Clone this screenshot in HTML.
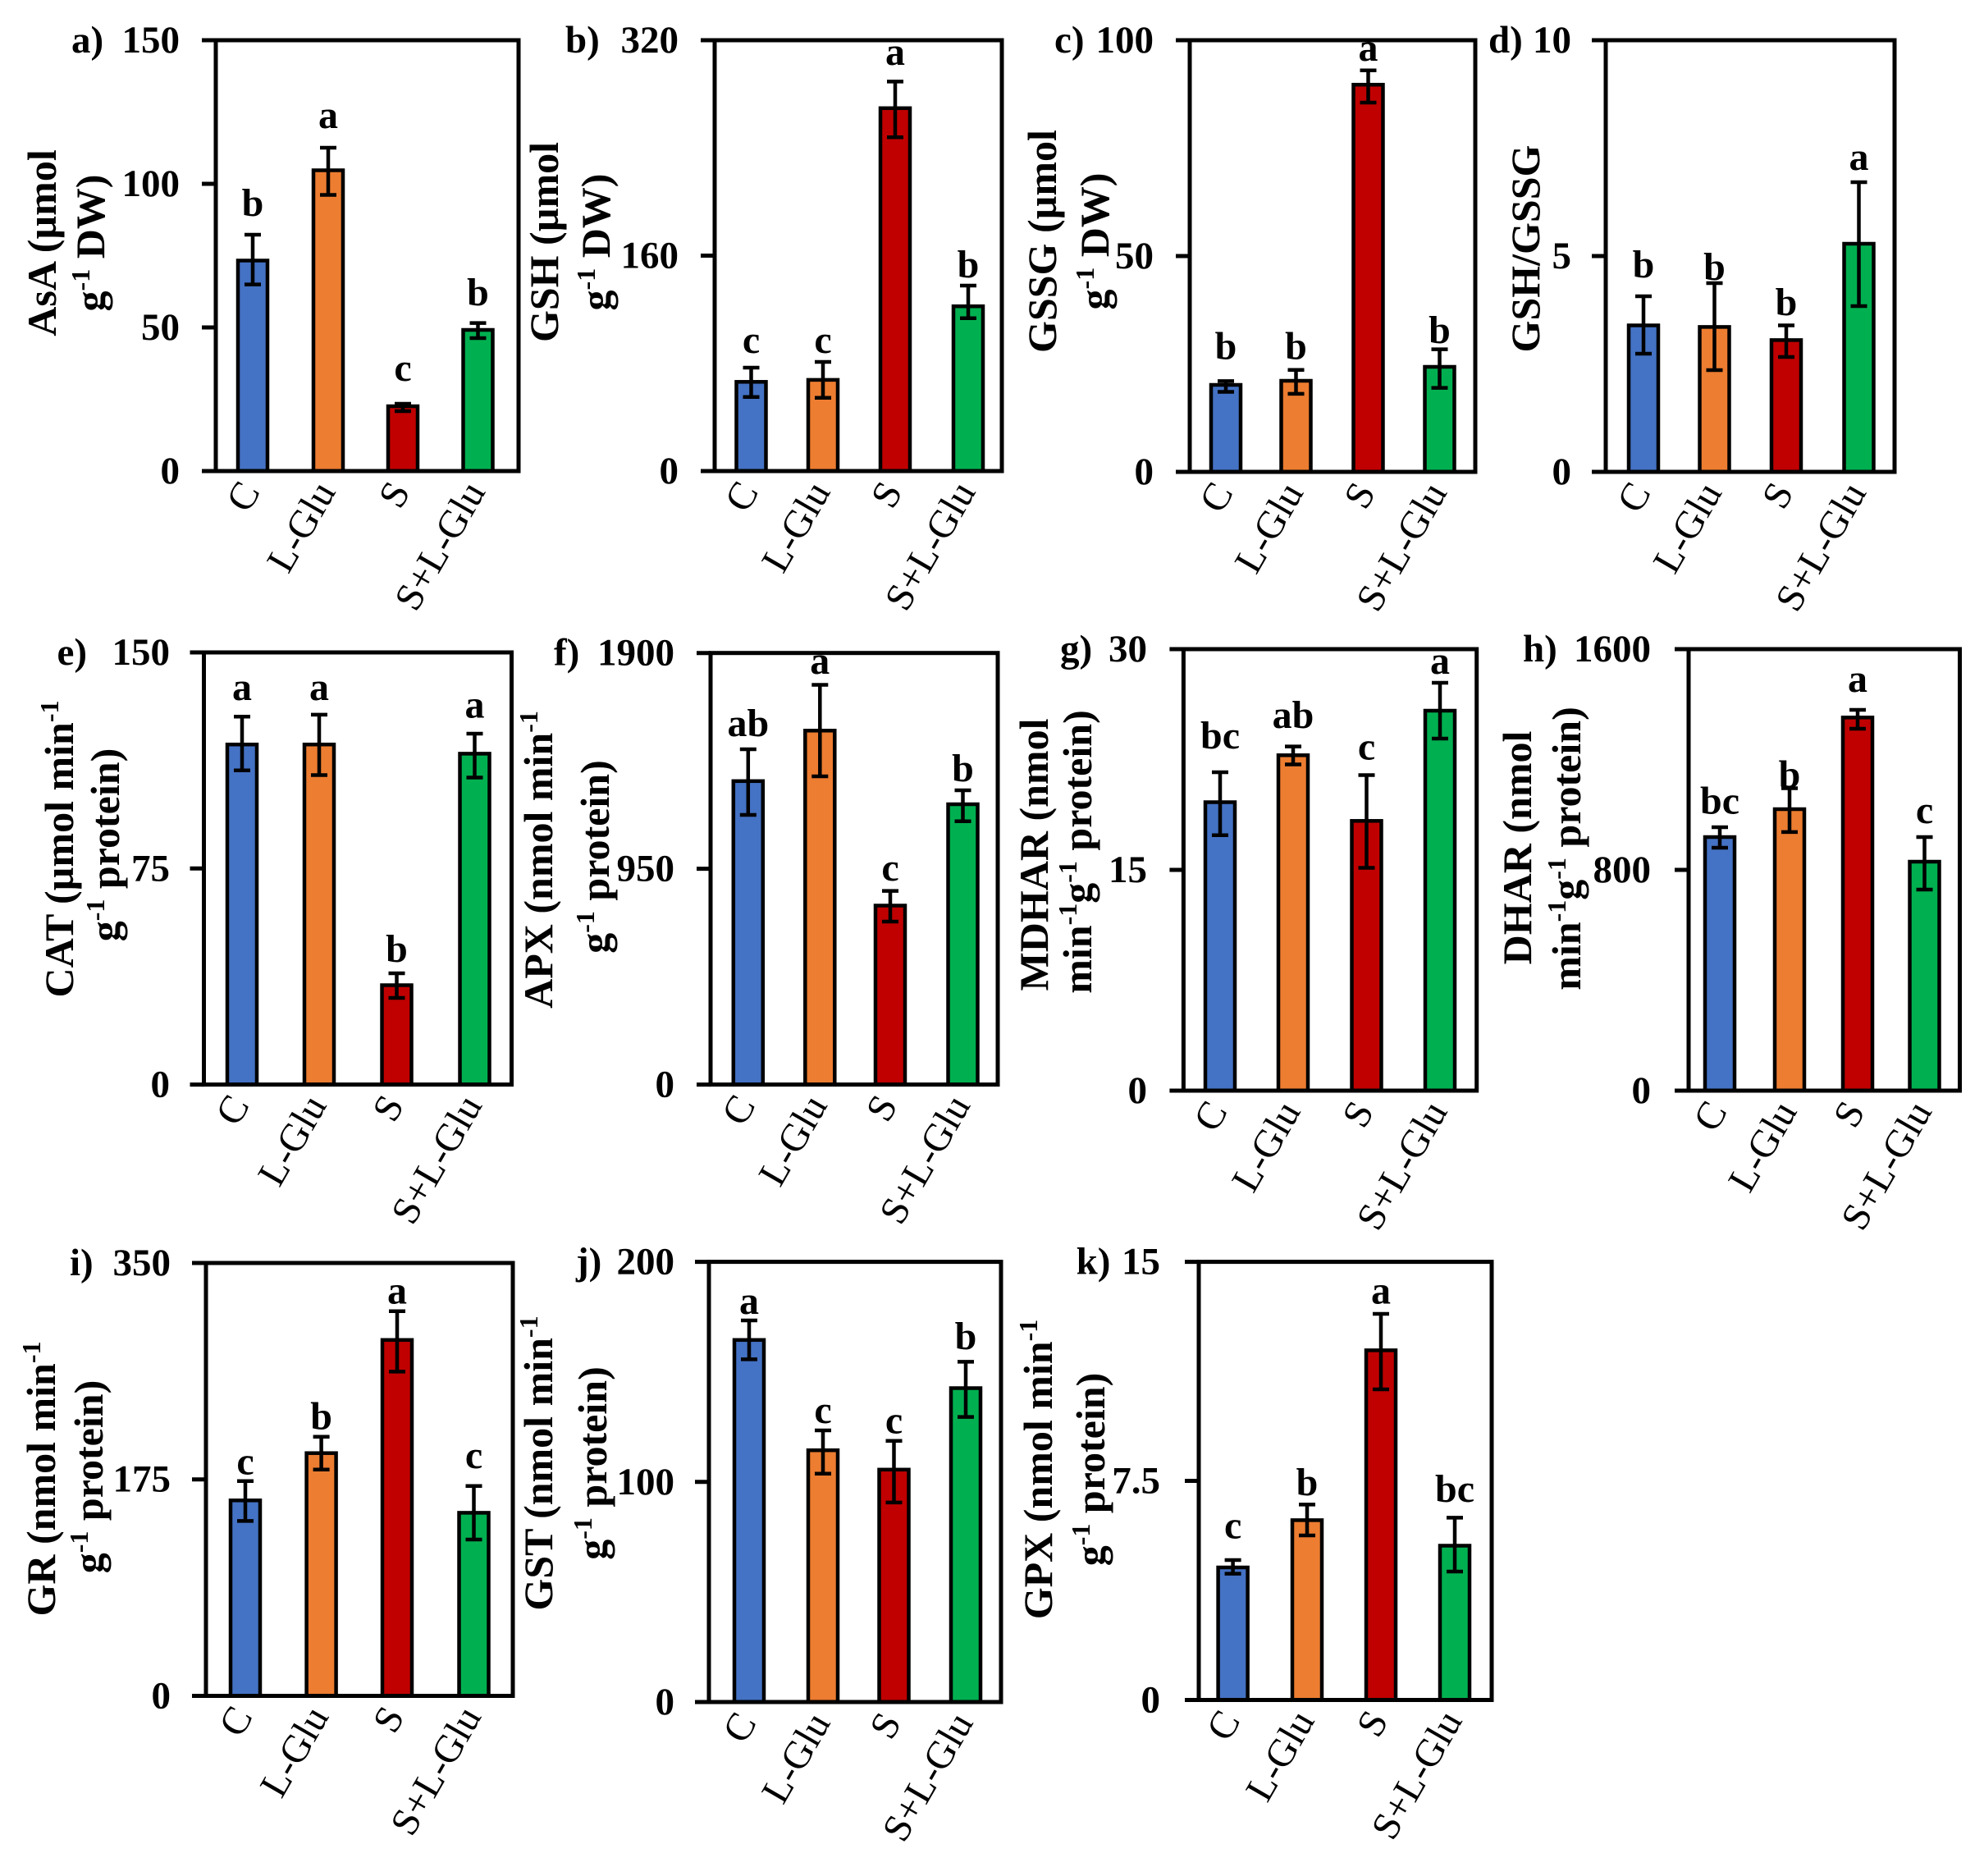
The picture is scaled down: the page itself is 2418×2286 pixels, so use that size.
<!DOCTYPE html>
<html><head><meta charset="utf-8">
<style>
html,body{margin:0;padding:0;background:#fff;}
svg{display:block;}
.tk{font-family:"Liberation Serif",serif;font-weight:bold;font-size:47px;text-anchor:end;fill:#000;}
.pl{font-family:"Liberation Serif",serif;font-weight:bold;font-size:47px;fill:#000;}
.ti{font-family:"Liberation Serif",serif;font-weight:bold;font-size:50px;text-anchor:middle;fill:#000;}
.lt{font-family:"Liberation Serif",serif;font-weight:bold;font-size:48px;text-anchor:middle;fill:#000;}
.xl{font-family:"Liberation Serif",serif;font-size:48px;text-anchor:end;fill:#000;}
.bx{fill:none;stroke:#000;stroke-width:5;}
.tm{stroke:#000;stroke-width:5;fill:none;}
.eb{stroke:#000;stroke-width:4.5;fill:none;}
.b1{fill:#4472C4;stroke:#000;stroke-width:4.5;}
.b2{fill:#ED7D31;stroke:#000;stroke-width:4.5;}
.b3{fill:#C00000;stroke:#000;stroke-width:4.5;}
.b4{fill:#00B050;stroke:#000;stroke-width:4.5;}
</style></head>
<body>
<svg width="2418" height="2286" viewBox="0 0 2418 2286" xmlns="http://www.w3.org/2000/svg">
<rect width="2418" height="2286" fill="#fff"/>

<!-- ===== Panel a ===== -->
<rect class="b1" x="290" y="317.5" width="36" height="256.5"/>
<rect class="b2" x="382" y="207.5" width="36" height="366.5"/>
<rect class="b3" x="473" y="495" width="36" height="79"/>
<rect class="b4" x="564.5" y="402" width="36" height="172"/>
<path class="eb" d="M308 286V346.6M298 286H318M298 346.6H318 M400 180V237.5M390 180H410M390 237.5H410 M491 492V501M481 492H501M481 501H501 M582.5 393.6V412M572.5 393.6H592.5M572.5 412H592.5"/>
<rect class="bx" x="263" y="49" width="369" height="525"/>
<path class="tm" d="M246 49H263M246 224H263M246 399H263M246 574H263"/>
<text class="tk" x="219" y="64">150</text><text class="tk" x="219" y="239">100</text><text class="tk" x="219" y="414">50</text><text class="tk" x="219" y="589">0</text>
<text class="pl" x="87" y="64">a)</text>
<text class="lt" x="308" y="263">b</text><text class="lt" x="400" y="156">a</text><text class="lt" x="491" y="464">c</text><text class="lt" x="582.5" y="372">b</text>
<text class="xl" transform="translate(318,599) rotate(-60)">C</text>
<text class="xl" transform="translate(410,599) rotate(-60)">L-Glu</text>
<text class="xl" transform="translate(501,599) rotate(-60)">S</text>
<text class="xl" transform="translate(592.5,599) rotate(-60)">S+L-Glu</text>
<text class="ti" transform="translate(68,296) rotate(-90)">AsA (µmol</text>
<text class="ti" transform="translate(127,296) rotate(-90)">g<tspan font-size="32" dy="-18">-1</tspan><tspan dy="18"> DW)</tspan></text>

<!-- ===== Panel b ===== -->
<rect class="b1" x="897.5" y="465.3" width="36" height="108.7"/>
<rect class="b2" x="985" y="462.9" width="36" height="111.1"/>
<rect class="b3" x="1073" y="131.8" width="36" height="442.2"/>
<rect class="b4" x="1162" y="373.2" width="36" height="200.8"/>
<path class="eb" d="M915.5 448V483.7M905.5 448H925.5M905.5 483.7H925.5 M1003 441V484.7M993 441H1013M993 484.7H1013 M1091 99.4V167.2M1081 99.4H1101M1081 167.2H1101 M1180 348V387.8M1170 348H1190M1170 387.8H1190"/>
<rect class="bx" x="871" y="49" width="350" height="525"/>
<path class="tm" d="M854 49H871M854 311.5H871M854 574H871"/>
<text class="tk" x="827" y="64">320</text><text class="tk" x="827" y="326.5">160</text><text class="tk" x="827" y="589">0</text>
<text class="pl" x="689" y="64">b)</text>
<text class="lt" x="915.5" y="430">c</text><text class="lt" x="1003" y="430">c</text><text class="lt" x="1091" y="79">a</text><text class="lt" x="1180" y="338">b</text>
<text class="xl" transform="translate(925.5,599) rotate(-60)">C</text>
<text class="xl" transform="translate(1013,599) rotate(-60)">L-Glu</text>
<text class="xl" transform="translate(1101,599) rotate(-60)">S</text>
<text class="xl" transform="translate(1190,599) rotate(-60)">S+L-Glu</text>
<text class="ti" transform="translate(680,295) rotate(-90)">GSH (µmol</text>
<text class="ti" transform="translate(743,295) rotate(-90)">g<tspan font-size="32" dy="-18">-1</tspan><tspan dy="18"> DW)</tspan></text>

<!-- ===== Panel c ===== -->
<rect class="b1" x="1476" y="469" width="36" height="106"/>
<rect class="b2" x="1561.5" y="464" width="36" height="111"/>
<rect class="b3" x="1649.5" y="103.2" width="36" height="471.8"/>
<rect class="b4" x="1736.5" y="447" width="36" height="128"/>
<path class="eb" d="M1494 464.4V477.5M1484 464.4H1504M1484 477.5H1504 M1579.5 450.8V479.9M1569.5 450.8H1589.5M1569.5 479.9H1589.5 M1667.5 85.8V125M1657.5 85.8H1677.5M1657.5 125H1677.5 M1754.5 425.6V472.6M1744.5 425.6H1764.5M1744.5 472.6H1764.5"/>
<rect class="bx" x="1450" y="49" width="348" height="526"/>
<path class="tm" d="M1433 49H1450M1433 312H1450M1433 575H1450"/>
<text class="tk" x="1406" y="64">100</text><text class="tk" x="1406" y="327">50</text><text class="tk" x="1406" y="590">0</text>
<text class="pl" x="1285" y="64">c)</text>
<text class="lt" x="1494" y="437.7">b</text><text class="lt" x="1579.5" y="437.7">b</text><text class="lt" x="1667.5" y="74">a</text><text class="lt" x="1754.5" y="418">b</text>
<text class="xl" transform="translate(1504,600) rotate(-60)">C</text>
<text class="xl" transform="translate(1589.5,600) rotate(-60)">L-Glu</text>
<text class="xl" transform="translate(1677.5,600) rotate(-60)">S</text>
<text class="xl" transform="translate(1764.5,600) rotate(-60)">S+L-Glu</text>
<text class="ti" transform="translate(1287,294) rotate(-90)">GSSG (µmol</text>
<text class="ti" transform="translate(1351,294) rotate(-90)">g<tspan font-size="32" dy="-18">-1</tspan><tspan dy="18"> DW)</tspan></text>

<!-- ===== Panel d ===== -->
<rect class="b1" x="1985" y="396.5" width="36" height="178.5"/>
<rect class="b2" x="2071.5" y="398.4" width="36" height="176.6"/>
<rect class="b3" x="2159" y="414.4" width="36" height="160.6"/>
<rect class="b4" x="2247.5" y="297" width="36" height="278"/>
<path class="eb" d="M2003 361V431M1993 361H2013M1993 431H2013 M2089.5 345V451M2079.5 345H2099.5M2079.5 451H2099.5 M2177 396.5V435M2167 396.5H2187M2167 435H2187 M2265.5 222V373M2255.5 222H2275.5M2255.5 373H2275.5"/>
<rect class="bx" x="1957" y="49" width="352" height="526"/>
<path class="tm" d="M1940 49H1957M1940 312H1957M1940 575H1957"/>
<text class="tk" x="1915" y="64">10</text><text class="tk" x="1915" y="327">5</text><text class="tk" x="1915" y="590">0</text>
<text class="pl" x="1814" y="64">d)</text>
<text class="lt" x="2003" y="338">b</text><text class="lt" x="2089.5" y="341">b</text><text class="lt" x="2177" y="384">b</text><text class="lt" x="2265.5" y="207">a</text>
<text class="xl" transform="translate(2013,600) rotate(-60)">C</text>
<text class="xl" transform="translate(2099.5,600) rotate(-60)">L-Glu</text>
<text class="xl" transform="translate(2187,600) rotate(-60)">S</text>
<text class="xl" transform="translate(2275.5,600) rotate(-60)">S+L-Glu</text>
<text class="ti" transform="translate(1876,303) rotate(-90)">GSH/GSSG</text>

<!-- ===== Panel e ===== -->
<rect class="b1" x="277" y="907.2" width="36" height="414.4"/>
<rect class="b2" x="371" y="907.2" width="36" height="414.4"/>
<rect class="b3" x="465.5" y="1200.5" width="36" height="121.1"/>
<rect class="b4" x="560.5" y="918.4" width="36" height="403.2"/>
<path class="eb" d="M295 873.3V938.7M285 873.3H305M285 938.7H305 M389 870.9V944.5M379 870.9H399M379 944.5H399 M483.5 1186V1216M473.5 1186H493.5M473.5 1216H493.5 M578.5 894V947.5M568.5 894H588.5M568.5 947.5H588.5"/>
<rect class="bx" x="248.5" y="795" width="375" height="526.6"/>
<path class="tm" d="M231.5 795H248.5M231.5 1058.3H248.5M231.5 1321.6H248.5"/>
<text class="tk" x="207" y="810">150</text><text class="tk" x="207" y="1073.3">75</text><text class="tk" x="207" y="1336.6">0</text>
<text class="pl" x="69.5" y="810">e)</text>
<text class="lt" x="295" y="853">a</text><text class="lt" x="389" y="853">a</text><text class="lt" x="483.5" y="1172">b</text><text class="lt" x="578.5" y="874.6">a</text>
<text class="xl" transform="translate(305,1346.6) rotate(-60)">C</text>
<text class="xl" transform="translate(399,1346.6) rotate(-60)">L-Glu</text>
<text class="xl" transform="translate(493.5,1346.6) rotate(-60)">S</text>
<text class="xl" transform="translate(588.5,1346.6) rotate(-60)">S+L-Glu</text>
<text class="ti" transform="translate(89,1034.5) rotate(-90)">CAT (µmol min<tspan font-size="32" dy="-18">-1</tspan></text>
<text class="ti" transform="translate(145,1029.5) rotate(-90)">g<tspan font-size="32" dy="-18">-1</tspan><tspan dy="18"> protein)</tspan></text>

<!-- ===== Panel f ===== -->
<rect class="b1" x="893.8" y="951.8" width="36" height="369.8"/>
<rect class="b2" x="981.3" y="890.3" width="36" height="431.3"/>
<rect class="b3" x="1067" y="1103.5" width="36" height="218.1"/>
<rect class="b4" x="1155.5" y="980" width="36" height="341.6"/>
<path class="eb" d="M911.8 913V993M901.8 913H921.8M901.8 993H921.8 M999.3 834.5V946M989.3 834.5H1009.3M989.3 946H1009.3 M1085 1085.6V1123M1075 1085.6H1095M1075 1123H1095 M1173.5 963V1000.8M1163.5 963H1183.5M1163.5 1000.8H1183.5"/>
<rect class="bx" x="866" y="795.7" width="350" height="525.9"/>
<path class="tm" d="M849 795.7H866M849 1058.6H866M849 1321.6H866"/>
<text class="tk" x="822" y="810.7">1900</text><text class="tk" x="822" y="1073.6">950</text><text class="tk" x="822" y="1336.6">0</text>
<text class="pl" x="675" y="810.7">f)</text>
<text class="lt" x="911.8" y="897">ab</text><text class="lt" x="999.3" y="821">a</text><text class="lt" x="1085" y="1073">c</text><text class="lt" x="1173.5" y="952">b</text>
<text class="xl" transform="translate(921.8,1346.6) rotate(-60)">C</text>
<text class="xl" transform="translate(1009.3,1346.6) rotate(-60)">L-Glu</text>
<text class="xl" transform="translate(1095,1346.6) rotate(-60)">S</text>
<text class="xl" transform="translate(1183.5,1346.6) rotate(-60)">S+L-Glu</text>
<text class="ti" transform="translate(673,1047.5) rotate(-90)">APX (nmol min<tspan font-size="32" dy="-18">-1</tspan></text>
<text class="ti" transform="translate(742,1044) rotate(-90)">g<tspan font-size="32" dy="-18">-1</tspan><tspan dy="18"> protein)</tspan></text>

<!-- ===== Panel g ===== -->
<rect class="b1" x="1469" y="977.5" width="36" height="351.5"/>
<rect class="b2" x="1558" y="920.3" width="36" height="408.7"/>
<rect class="b3" x="1647.5" y="1000.3" width="36" height="328.7"/>
<rect class="b4" x="1737" y="866" width="36" height="463"/>
<path class="eb" d="M1487 941V1017.7M1477 941H1497M1477 1017.7H1497 M1576 909.6V931.5M1566 909.6H1586M1566 931.5H1586 M1665.5 944.5V1057.5M1655.5 944.5H1675.5M1655.5 1057.5H1675.5 M1755 832V900M1745 832H1765M1745 900H1765"/>
<rect class="bx" x="1442.4" y="791" width="357.3" height="538"/>
<path class="tm" d="M1425.4 791H1442.4M1425.4 1060H1442.4M1425.4 1329H1442.4"/>
<text class="tk" x="1398" y="806">30</text><text class="tk" x="1398" y="1075">15</text><text class="tk" x="1398" y="1344">0</text>
<text class="pl" x="1292" y="806">g)</text>
<text class="lt" x="1487" y="912">bc</text><text class="lt" x="1576" y="887">ab</text><text class="lt" x="1665.5" y="925.5">c</text><text class="lt" x="1755" y="821">a</text>
<text class="xl" transform="translate(1497,1354) rotate(-60)">C</text>
<text class="xl" transform="translate(1586,1354) rotate(-60)">L-Glu</text>
<text class="xl" transform="translate(1675.5,1354) rotate(-60)">S</text>
<text class="xl" transform="translate(1765,1354) rotate(-60)">S+L-Glu</text>
<text class="ti" transform="translate(1277,1041.5) rotate(-90)">MDHAR (nmol</text>
<text class="ti" transform="translate(1330,1038) rotate(-90)">min<tspan font-size="32" dy="-18">-1</tspan><tspan dy="18">g</tspan><tspan font-size="32" dy="-18">-1</tspan><tspan dy="18"> protein)</tspan></text>

<!-- ===== Panel h ===== -->
<rect class="b1" x="2078" y="1020" width="36" height="309"/>
<rect class="b2" x="2163" y="986" width="36" height="343"/>
<rect class="b3" x="2246" y="874.3" width="36" height="454.7"/>
<rect class="b4" x="2327.5" y="1050" width="36" height="279"/>
<path class="eb" d="M2096 1008V1033M2086 1008H2106M2086 1033H2106 M2181 960.5V1013.9M2171 960.5H2191M2171 1013.9H2191 M2264 865V888M2254 865H2274M2254 888H2274 M2345.5 1020V1084M2335.5 1020H2355.5M2335.5 1084H2355.5"/>
<rect class="bx" x="2058" y="791" width="330.5" height="538"/>
<path class="tm" d="M2041 791H2058M2041 1060H2058M2041 1329H2058"/>
<text class="tk" x="2012" y="806">1600</text><text class="tk" x="2012" y="1075">800</text><text class="tk" x="2012" y="1344">0</text>
<text class="pl" x="1856" y="806">h)</text>
<text class="lt" x="2096" y="991.5">bc</text><text class="lt" x="2181" y="959.6">b</text><text class="lt" x="2264" y="843">a</text><text class="lt" x="2345.5" y="1003">c</text>
<text class="xl" transform="translate(2106,1354) rotate(-60)">C</text>
<text class="xl" transform="translate(2191,1354) rotate(-60)">L-Glu</text>
<text class="xl" transform="translate(2274,1354) rotate(-60)">S</text>
<text class="xl" transform="translate(2355.5,1354) rotate(-60)">S+L-Glu</text>
<text class="ti" transform="translate(1866,1033) rotate(-90)">DHAR (nmol</text>
<text class="ti" transform="translate(1926,1034) rotate(-90)">min<tspan font-size="32" dy="-18">-1</tspan><tspan dy="18">g</tspan><tspan font-size="32" dy="-18">-1</tspan><tspan dy="18"> protein)</tspan></text>

<!-- ===== Panel i ===== -->
<rect class="b1" x="281" y="1828.3" width="36" height="238.2"/>
<rect class="b2" x="373.6" y="1770.7" width="36" height="295.8"/>
<rect class="b3" x="466" y="1632.8" width="36" height="433.7"/>
<rect class="b4" x="559.5" y="1843.4" width="36" height="223.1"/>
<path class="eb" d="M299 1804.8V1853.4M289 1804.8H309M289 1853.4H309 M391.6 1750.7V1790.8M381.6 1750.7H401.6M381.6 1790.8H401.6 M484 1597.8V1671.4M474 1597.8H494M474 1671.4H494 M577.5 1810.8V1876M567.5 1810.8H587.5M567.5 1876H587.5"/>
<rect class="bx" x="251" y="1539" width="374" height="527.5"/>
<path class="tm" d="M234 1539H251M234 1802.7H251M234 2066.5H251"/>
<text class="tk" x="208" y="1554">350</text><text class="tk" x="208" y="1817.7">175</text><text class="tk" x="208" y="2081.5">0</text>
<text class="pl" x="85" y="1554">i)</text>
<text class="lt" x="299" y="1796.7">c</text><text class="lt" x="391.6" y="1741.6">b</text><text class="lt" x="484" y="1588.7">a</text><text class="lt" x="577.5" y="1789.2">c</text>
<text class="xl" transform="translate(309,2091.5) rotate(-60)">C</text>
<text class="xl" transform="translate(401.6,2091.5) rotate(-60)">L-Glu</text>
<text class="xl" transform="translate(494,2091.5) rotate(-60)">S</text>
<text class="xl" transform="translate(587.5,2091.5) rotate(-60)">S+L-Glu</text>
<text class="ti" transform="translate(67,1802) rotate(-90)">GR (nmol min<tspan font-size="32" dy="-18">-1</tspan></text>
<text class="ti" transform="translate(125,1799.5) rotate(-90)">g<tspan font-size="32" dy="-18">-1</tspan><tspan dy="18"> protein)</tspan></text>

<!-- ===== Panel j ===== -->
<rect class="b1" x="895" y="1632.8" width="36" height="441.2"/>
<rect class="b2" x="985" y="1767.2" width="36" height="306.8"/>
<rect class="b3" x="1071.5" y="1790.8" width="36" height="283.2"/>
<rect class="b4" x="1159" y="1691.5" width="36" height="382.5"/>
<path class="eb" d="M913 1609V1656.4M903 1609H923M903 1656.4H923 M1003 1743V1795.8M993 1743H1013M993 1795.8H1013 M1089.5 1755.7V1830.9M1079.5 1755.7H1099.5M1079.5 1830.9H1099.5 M1177 1659.4V1726.6M1167 1659.4H1187M1167 1726.6H1187"/>
<rect class="bx" x="864" y="1537.6" width="356" height="536.4"/>
<path class="tm" d="M847 1537.6H864M847 1805.8H864M847 2074H864"/>
<text class="tk" x="822" y="1552.6">200</text><text class="tk" x="822" y="1820.8">100</text><text class="tk" x="822" y="2089">0</text>
<text class="pl" x="702" y="1552.6">j)</text>
<text class="lt" x="913" y="1601">a</text><text class="lt" x="1003" y="1734">c</text><text class="lt" x="1089.5" y="1746.6">c</text><text class="lt" x="1177" y="1643.8">b</text>
<text class="xl" transform="translate(923,2099) rotate(-60)">C</text>
<text class="xl" transform="translate(1013,2099) rotate(-60)">L-Glu</text>
<text class="xl" transform="translate(1099.5,2099) rotate(-60)">S</text>
<text class="xl" transform="translate(1187,2099) rotate(-60)">S+L-Glu</text>
<text class="ti" transform="translate(673,1783) rotate(-90)">GST (nmol min<tspan font-size="32" dy="-18">-1</tspan></text>
<text class="ti" transform="translate(739,1783) rotate(-90)">g<tspan font-size="32" dy="-18">-1</tspan><tspan dy="18"> protein)</tspan></text>

<!-- ===== Panel k ===== -->
<rect class="b1" x="1484.6" y="1910" width="36" height="161.5"/>
<rect class="b2" x="1575" y="1852.4" width="36" height="219.1"/>
<rect class="b3" x="1665" y="1645.4" width="36" height="426.1"/>
<rect class="b4" x="1755" y="1883.5" width="36" height="188"/>
<path class="eb" d="M1502.6 1901V1917.6M1492.6 1901H1512.6M1492.6 1917.6H1512.6 M1593 1833.4V1871M1583 1833.4H1603M1583 1871H1603 M1683 1601V1693M1673 1601H1693M1673 1693H1693 M1773 1849.4V1915M1763 1849.4H1783M1763 1915H1783"/>
<rect class="bx" x="1461" y="1537.6" width="357" height="533.9"/>
<path class="tm" d="M1444 1537.6H1461M1444 1804.5H1461M1444 2071.5H1461"/>
<text class="tk" x="1414" y="1552.6">15</text><text class="tk" x="1414" y="1819.5">7.5</text><text class="tk" x="1414" y="2086.5">0</text>
<text class="pl" x="1311.6" y="1552.6">k)</text>
<text class="lt" x="1502.6" y="1874.4">c</text><text class="lt" x="1593" y="1821.8">b</text><text class="lt" x="1683" y="1588.7">a</text><text class="lt" x="1773" y="1829.8">bc</text>
<text class="xl" transform="translate(1512.6,2096.5) rotate(-60)">C</text>
<text class="xl" transform="translate(1603,2096.5) rotate(-60)">L-Glu</text>
<text class="xl" transform="translate(1693,2096.5) rotate(-60)">S</text>
<text class="xl" transform="translate(1783,2096.5) rotate(-60)">S+L-Glu</text>
<text class="ti" transform="translate(1282,1790.5) rotate(-90)">GPX (nmol min<tspan font-size="32" dy="-18">-1</tspan></text>
<text class="ti" transform="translate(1346,1790.5) rotate(-90)">g<tspan font-size="32" dy="-18">-1</tspan><tspan dy="18"> protein)</tspan></text>

</svg>
</body></html>
